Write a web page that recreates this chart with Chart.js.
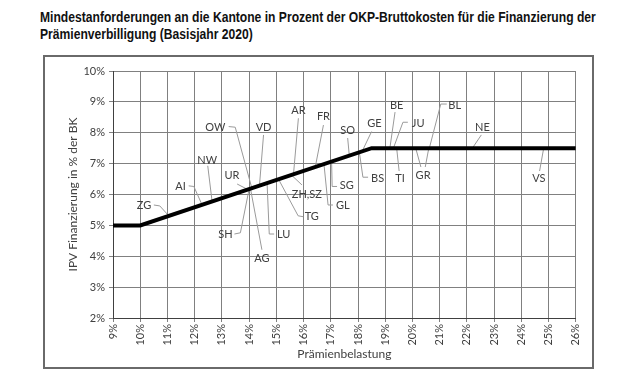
<!DOCTYPE html>
<html>
<head>
<meta charset="utf-8">
<script src="https://cdn.jsdelivr.net/npm/chart.js@4"></script>
<style>
  body { margin: 0; background: #fff; width: 640px; height: 376px; position: relative; overflow: hidden; }
  #title { position: absolute; left: 40px; top: 9px; white-space: nowrap; font: bold 14px "Liberation Sans", Arial, sans-serif; line-height: 17px; color: #111; transform: scaleX(0.865); transform-origin: left top; }
  #frame { position: absolute; left: 43px; top: 55px; width: 547px; height: 310px; border: 2px solid #6a6a6a; }
  #chart { position: absolute; left: 0px; top: 0px; }
</style>
</head>
<body>
<div id="title">Mindestanforderungen an die Kantone in Prozent der OKP-Bruttokosten für die Finanzierung der<br>Prämienverbilligung (Basisjahr 2020)</div>
<div id="frame"><canvas id="chart" width="546" height="310"></canvas></div>
<script>
// Mindestanteil-Kurve (Prämienbelastung -> IPV-Finanzierung in % der BK)
const curveX = [9, 10, 18.5, 26];
const curveY = [5, 5, 7.5, 7.5];

// Kantone und ihre Prämienbelastung (Punkt auf der Kurve)
const cantons = ['ZG', 'AI', 'NW', 'OW', 'UR', 'SH', 'AG', 'VD', 'LU', 'AR', 'TG', 'ZH,SZ', 'FR', 'GL', 'SG', 'SO', 'GE', 'BS', 'BE', 'JU', 'TI', 'GR', 'BL', 'NE', 'VS'];
const cantonX = [11.05, 12.27, 12.64, 14.1, 13.95, 14.0, 14.05, 14.38, 14.66, 15.63, 15.08, 15.55, 16.43, 16.75, 17.03, 17.68, 18.15, 18.05, 19.17, 19.3, 19.42, 20.12, 20.62, 22.2, 24.82];

// Beschriftungs-Layout (Achsenwerte): Textposition + Knickpunkte der Hinweislinie
const labelLayout = {
    'ZG': { at: [10.14, 5.63], path: [[10.5, 5.66], [10.72, 5.63]] },
    'AI': { at: [11.48, 6.26], path: [[11.78, 6.28], [11.97, 6.26]] },
    'NW': { at: [12.46, 7.10], path: [[12.48, 6.93]] },
    'OW': { at: [12.76, 8.18], path: [[13.25, 8.20], [13.49, 8.18]] },
    'UR': { at: [13.37, 6.63], path: [[13.56, 6.34]] },
    'SH': { at: [13.13, 4.69], path: [[13.46, 4.72], [13.68, 4.76]] },
    'AG': { at: [14.47, 3.94], path: [[14.47, 4.21]] },
    'VD': { at: [14.53, 8.18], path: [[14.53, 7.93]] },
    'LU': { at: [15.27, 4.72], path: [[14.92, 4.72], [14.74, 4.72]] },
    'AR': { at: [15.81, 8.72], path: [[15.81, 8.47]] },
    'TG': { at: [16.30, 5.28], path: [[15.99, 5.28], [15.80, 5.31]] },
    'ZH,SZ': { at: [16.12, 5.99], path: [[15.94, 6.31]] },
    'FR': { at: [16.73, 8.52], path: [[16.73, 8.25]] },
    'GL': { at: [17.44, 5.66], path: [[17.08, 5.66], [16.90, 5.66]] },
    'SG': { at: [17.59, 6.28], path: [[17.23, 6.26], [17.05, 6.26]] },
    'SO': { at: [17.62, 8.09], path: [[17.62, 7.83]] },
    'GE': { at: [18.60, 8.31], path: [[18.50, 8.04]] },
    'BS': { at: [18.72, 6.53], path: [[18.37, 6.56], [18.18, 6.56]] },
    'BE': { at: [19.42, 8.90], path: [[19.36, 8.67]] },
    'JU': { at: [20.21, 8.31], path: [[19.83, 8.34], [19.65, 8.34]] },
    'TI': { at: [19.54, 6.53], path: [[19.51, 6.76]] },
    'GR': { at: [20.39, 6.63], path: [[20.31, 6.89]], extra: [[20.47, 6.89], 20.6] },
    'BL': { at: [21.55, 8.90], path: [[21.26, 8.93], [21.04, 8.93]] },
    'NE': { at: [22.57, 8.17], path: [[22.53, 7.93]] },
    'VS': { at: [24.64, 6.53], path: [[24.67, 6.76]] }
};

const textColor = '#404040';
const labelFont = '11px Lato, "Open Sans", sans-serif';

// y-Wert auf der Kurve für einen x-Wert
function curveAt(x) {
    for (let i = 1; i < curveX.length; i++) {
        if (x <= curveX[i]) {
            const t = (x - curveX[i - 1]) / (curveX[i] - curveX[i - 1]);
            return curveY[i - 1] + t * (curveY[i] - curveY[i - 1]);
        }
    }
    return curveY[curveY.length - 1];
}

// Kantonsbeschriftungen mit Hinweislinien
const cantonLabels = {
    id: 'cantonLabels',
    beforeDatasetsDraw(chart) {
        const { ctx, scales: { x, y } } = chart;
        ctx.save();
        ctx.strokeStyle = '#9a9a9a';
        ctx.lineWidth = 1;
        cantons.forEach((name, i) => {
            const lay = labelLayout[name];
            const pts = lay.path.concat([[cantonX[i], curveAt(cantonX[i])]]);
            ctx.beginPath();
            pts.forEach((p, j) => {
                const px = x.getPixelForValue(p[0]), py = y.getPixelForValue(p[1]);
                if (j === 0) ctx.moveTo(px, py); else ctx.lineTo(px, py);
            });
            ctx.stroke();
            if (lay.extra) {
                const s = lay.extra[0], ex = lay.extra[1];
                ctx.beginPath();
                ctx.moveTo(x.getPixelForValue(s[0]), y.getPixelForValue(s[1]));
                ctx.lineTo(x.getPixelForValue(ex), y.getPixelForValue(curveAt(ex)));
                ctx.stroke();
            }
        });
        ctx.fillStyle = textColor;
        ctx.font = labelFont;
        ctx.textAlign = 'center';
        ctx.textBaseline = 'middle';
        cantons.forEach(name => {
            const at = labelLayout[name].at;
            ctx.fillText(name, x.getPixelForValue(at[0]), y.getPixelForValue(at[1]));
        });
        ctx.restore();
    }
};

const tickFont = { family: 'Lato, "Open Sans", sans-serif', size: 11 };

new Chart(document.getElementById('chart'), {
    type: 'scatter',
    data: {
        datasets: [{
            data: curveX.map((v, i) => ({ x: v, y: curveY[i] })),
            showLine: true,
            borderColor: '#000',
            borderWidth: 4,
            pointRadius: 0,
            tension: 0
        }]
    },
    options: {
        responsive: false,
        animation: false,
        layout: { padding: { left: 0, right: 14, top: 14, bottom: 0 } },
        plugins: {
            legend: { display: false },
            title: { display: false },
            tooltip: { enabled: false }
        },
        scales: {
            x: {
                type: 'linear',
                min: 9,
                max: 26,
                afterFit: s => { s.height = 49; },
                ticks: {
                    stepSize: 1,
                    callback: v => v + '%',
                    minRotation: 90,
                    maxRotation: 90,
                    color: textColor,
                    font: tickFont,
                    padding: 2
                },
                grid: { color: '#808080', tickLength: 4 },
                border: { color: '#404040' },
                title: {
                    display: true,
                    text: 'Prämienbelastung',
                    color: textColor,
                    font: { family: 'Lato, "Open Sans", sans-serif', size: 12 },
                    padding: { top: 0, bottom: 6 }
                }
            },
            y: {
                min: 2,
                max: 10,
                afterFit: s => { s.width = 68; },
                ticks: {
                    stepSize: 1,
                    callback: v => v + '%',
                    color: textColor,
                    font: tickFont,
                    padding: 4
                },
                grid: { color: '#808080', tickLength: 4 },
                border: { color: '#404040' },
                title: {
                    display: true,
                    text: 'IPV Finanzierung in % der BK',
                    color: textColor,
                    font: { family: 'Lato, "Open Sans", sans-serif', size: 12 },
                    padding: { top: 21, bottom: 0 }
                }
            }
        }
    },
    plugins: [cantonLabels]
});
</script>
</body>
</html>
